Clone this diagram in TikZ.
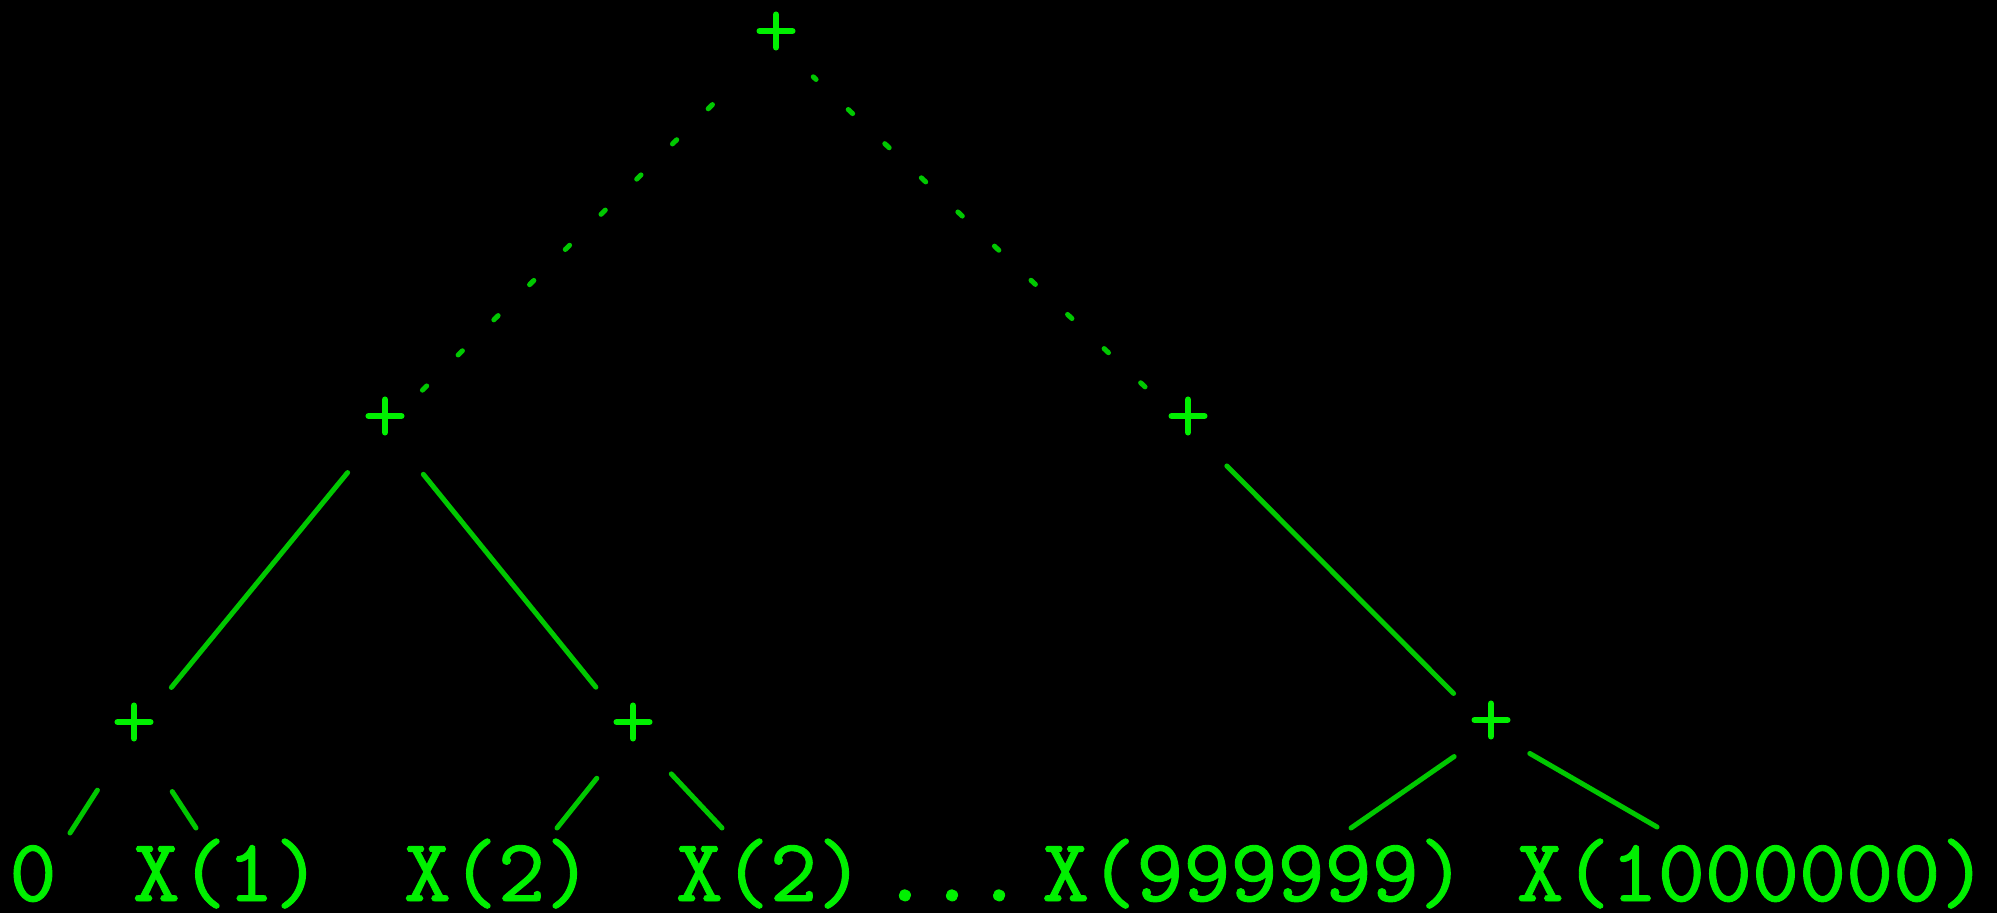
\documentclass[tikz,border=0pt]{standalone}
\usepackage{fontspec}
\newfontfamily\leaffont{lmmono10-regular.otf}[FakeBold=1]
\definecolor{termgreen}{RGB}{0,240,0}
\definecolor{wiregreen}{RGB}{0,200,0}
\tikzset{
  crossbar/.style={draw=termgreen, line width=0.06cm, line cap=round},
  op/.style={inner sep=0pt, minimum size=0pt,
    append after command={
      ([xshift=-0.165cm,yshift=0.11cm]\tikzlastnode.center) edge[crossbar] ([xshift=0.165cm,yshift=0.11cm]\tikzlastnode.center)
      ([yshift=0.275cm]\tikzlastnode.center) edge[crossbar] ([yshift=-0.055cm]\tikzlastnode.center)}},
  leaf/.style={font=\leaffont\fontsize{25.5pt}{30pt}\selectfont, text=termgreen, inner sep=0pt, anchor=base},
  branch/.style={draw=wiregreen, line width=0.05cm, line cap=round},
  dotbranch/.style={branch, dash pattern=on 0.06cm off 0.44cm}
}
\begin{document}
\begin{tikzpicture}[x=0.01cm,y=-0.01cm]

        % ==========================================
        % Screen
        % ==========================================
        \useasboundingbox (0,0) rectangle (1997,912);
        \fill[black] (-20,-20) rectangle (2017,932);

        % ==========================================
        % Sum nodes
        % ==========================================
        \node[op] (R) at (776,42) {};
        \node[op] (A) at (385,427) {};
        \node[op] (B) at (1188,427) {};
        \node[op] (C) at (134,733) {};
        \node[op] (D) at (633,733) {};
        \node[op] (E) at (1491,731) {};

        % ==========================================
        % Leaves
        % ==========================================
        \node[leaf] (x0) at (33,901) {0};
        \node[leaf] (x1) at (227,901) {X(1)};
        \node[leaf] (x2) at (498,901) {X(2)};
        \node[leaf] (x2b) at (770,901) {X(2)};
        \node[leaf] (gap) at (952,901) {...};
        \node[leaf] (xm) at (1254,901) {X(999999)};
        \node[leaf] (xn) at (1752,901) {X(1000000)};

        % Leaf wire ends
        \coordinate (c0) at (70,833);
        \coordinate (c1) at (196,828);
        \coordinate (d0) at (557,828);
        \coordinate (d1) at (722,828);
        \coordinate (e0) at (1351,828);
        \coordinate (e1) at (1657,827);

        % ==========================================
        % Skipped part of the tree (dotted)
        % ==========================================
        \draw[dotbranch, shorten <=0.515cm, shorten >=0.55cm, dash pattern=on 0.06cm off 0.441cm] (A) -- (R);
        \draw[dotbranch, shorten <=0.578cm, shorten >=0.5cm] (B) -- (R);

        % ==========================================
        % Inner branches
        % ==========================================
        \draw[branch, shorten <=0.58cm, shorten >=0.58cm] (A) -- (C);
        \draw[branch, shorten <=0.6cm, shorten >=0.58cm] (A) -- (D);
        \draw[branch, shorten <=0.54cm, shorten >=0.52cm] (B) -- (E);

        % ==========================================
        % Leaf branches
        % ==========================================
        \draw[branch, shorten <=0.67cm] (C) -- (c0);
        \draw[branch, shorten <=0.69cm] (C) -- (c1);
        \draw[branch, shorten <=0.57cm] (D) -- (d0);
        \draw[branch, shorten <=0.55cm] (D) -- (d1);
        \draw[branch, shorten <=0.44cm] (E) -- (e0);
        \draw[branch, shorten <=0.44cm] (E) -- (e1);

\end{tikzpicture}
\end{document}
